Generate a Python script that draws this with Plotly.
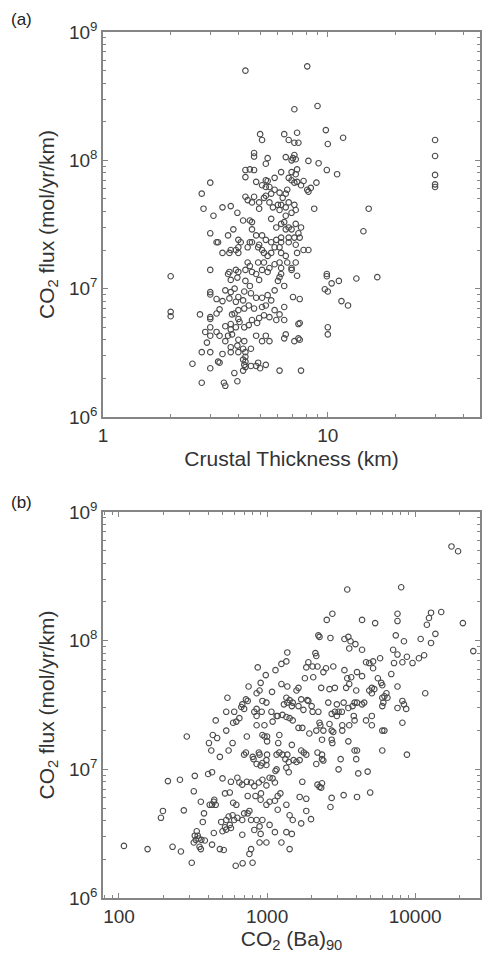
import plotly.graph_objects as go

# ---------------- Panel (a): crustal thickness vs CO2 flux ----------------
thickness_km = [
    4.3, 8.1, 7.1, 9.0, 5.0, 5.1, 6.4, 6.7, 7.3, 7.1,
    7.4, 9.8, 10.0, 11.7, 30, 30, 30, 30, 30, 4.7,
    4.7, 5.4, 5.3, 6.5, 6.9, 7.1, 7.2, 7.0, 8.2, 9.1,
    9.9, 11.0, 4.3, 4.5, 4.7, 4.3, 6.2, 6.9, 7.3, 7.2,
    4.8, 5.1, 5.3, 5.4, 5.8, 5.3, 5.5, 6.7, 6.9, 7.3,
    7.8, 7.1, 7.6, 8.9, 8.1, 8.4, 8.2, 3.0, 2.75, 2.8,
    3.1, 3.4, 3.7, 3.96, 4.3, 4.4, 4.7, 4.6, 4.95, 4.95,
    5.2, 5.3, 5.6, 5.8, 6.1, 6.3, 6.5, 6.6, 5.5, 5.7,
    6.0, 6.1, 6.2, 6.5, 6.7, 7.1, 7.2, 6.9, 6.5, 8.7,
    3.0, 3.2, 3.6, 3.8, 4.0, 4.1, 4.5, 4.6, 4.2, 4.6,
    4.8, 5.1, 5.3, 4.95, 4.6, 5.6, 5.9, 6.2, 6.4, 6.5,
    6.7, 6.9, 7.2, 7.6, 7.4, 7.1, 6.7, 6.2, 5.9, 5.6,
    6.2, 6.7, 7.2, 7.8, 8.2, 7.3, 7.5, 14.4, 15.2, 3.25,
    3.4, 3.65, 3.7, 3.9, 4.0, 4.0, 4.4, 4.5, 4.9, 5.1,
    5.2, 5.4, 5.6, 5.8, 6.1, 6.2, 6.5, 2.0, 3.0, 3.6,
    3.7, 3.65, 3.9, 4.0, 3.96, 4.4, 4.5, 4.3, 4.6, 4.3,
    4.5, 4.25, 4.8, 4.95, 5.1, 5.4, 5.5, 4.9, 5.2, 5.8,
    6.1, 6.2, 6.6, 6.9, 7.2, 6.1, 6.2, 6.9, 7.3, 6.0,
    6.4, 5.8, 5.4, 5.1, 5.6, 7.0, 7.5, 9.9, 9.9, 11.2,
    10.4, 13.4, 16.6, 9.7, 10.0, 11.5, 12.3, 3.0, 3.0, 3.2,
    3.4, 3.5, 3.3, 3.2, 2.7, 3.0, 3.0, 2.0, 2.0, 2.85,
    3.0, 2.5, 2.75, 3.0, 3.0, 3.25, 3.3, 3.4, 2.75, 3.45,
    3.5, 3.96, 3.84, 4.2, 6.1, 7.6, 4.25, 4.3, 4.3, 4.55,
    4.8, 4.9, 5.0, 5.3, 2.9, 3.0, 3.3, 3.2, 3.6, 3.75,
    3.5, 4.2, 4.3, 4.0, 3.7, 3.7, 3.96, 4.0, 4.25, 4.2,
    4.3, 4.55, 7.1, 7.4, 7.5, 6.4, 6.5, 5.5, 5.3, 5.1,
    4.8, 10.0, 10.0, 7.4, 7.5, 6.4, 6.1, 5.9, 5.5, 5.2,
    4.95, 4.6, 4.85, 4.45, 4.25, 4.05, 3.9, 3.7, 4.0, 3.85,
    3.5, 3.7, 3.75, 4.0, 4.25, 4.45, 4.7, 5.1, 5.3, 5.8,
    6.4, 4.2, 4.0, 3.9, 4.55, 4.8, 3.65, 3.7, 3.85,
]
flux_a = [
    5.0e8, 5.4e8, 2.5e8, 2.65e8, 1.6e8, 1.44e8, 1.6e8, 1.44e8, 1.64e8, 1.37e8,
    1.37e8, 1.72e8, 1.34e8, 1.5e8, 1.44e8, 1.08e8, 7.7e7, 6.5e7, 6.2e7, 1.14e8,
    1.07e8, 1.04e8, 9.4e7, 1.06e8, 1.0e8, 1.1e8, 1.02e8, 1.04e8, 9.9e7, 9.5e7,
    8.4e7, 7.8e7, 8.4e7, 8.5e7, 8.4e7, 7.4e7, 8.1e7, 8.1e7, 8.5e7, 7.8e7,
    6.8e7, 6.4e7, 7.0e7, 6.9e7, 7.3e7, 6.2e7, 6.2e7, 7.3e7, 7.0e7, 6.8e7,
    6.9e7, 6.7e7, 6.4e7, 6.7e7, 5.9e7, 6.1e7, 5.7e7, 6.7e7, 5.5e7, 4.2e7,
    3.7e7, 4.3e7, 4.4e7, 3.9e7, 5.2e7, 4.9e7, 5.2e7, 4.7e7, 4.7e7, 4.2e7,
    5.1e7, 5.3e7, 5.5e7, 5.9e7, 5.6e7, 5.1e7, 5.5e7, 5.9e7, 4.7e7, 4.3e7,
    4.5e7, 4.1e7, 4.5e7, 4.3e7, 4.7e7, 4.5e7, 4.1e7, 3.9e7, 3.7e7, 4.2e7,
    2.7e7, 2.3e7, 2.6e7, 2.9e7, 2.4e7, 2.3e7, 3.4e7, 3.3e7, 3.4e7, 2.9e7,
    2.6e7, 2.6e7, 2.4e7, 2.2e7, 2.3e7, 3.5e7, 3.0e7, 3.2e7, 3.3e7, 2.9e7,
    3.0e7, 2.9e7, 3.2e7, 3.0e7, 2.7e7, 2.5e7, 2.5e7, 2.5e7, 2.4e7, 2.3e7,
    2.3e7, 2.3e7, 2.2e7, 2.0e7, 2.0e7, 1.9e7, 2.5e7, 2.8e7, 4.2e7, 2.3e7,
    1.9e7, 1.9e7, 2.0e7, 2.0e7, 1.9e7, 2.1e7, 2.1e7, 2.3e7, 2.1e7, 2.0e7,
    1.9e7, 1.8e7, 1.9e7, 2.1e7, 2.1e7, 1.9e7, 1.8e7, 1.25e7, 1.4e7, 1.3e7,
    1.17e7, 1.35e7, 1.4e7, 1.35e7, 1.22e7, 1.6e7, 1.5e7, 1.4e7, 1.35e7, 1.15e7,
    1.05e7, 9.5e6, 1.3e7, 1.17e7, 1.4e7, 1.35e7, 1.45e7, 1.6e7, 1.6e7, 1.55e7,
    1.6e7, 1.45e7, 1.6e7, 1.45e7, 1.6e7, 1.23e7, 1.3e7, 1.4e7, 1.26e7, 1.15e7,
    1.05e7, 9.7e6, 8.9e6, 8.5e6, 8.1e6, 8.6e6, 8.3e6, 1.3e7, 1.25e7, 1.15e7,
    1.1e7, 1.2e7, 1.23e7, 9.9e6, 9.5e6, 8.0e6, 7.4e6, 9.4e6, 9.0e6, 8.3e6,
    8.0e6, 9.7e6, 6.9e6, 6.4e6, 6.3e6, 6.0e6, 5.8e6, 6.6e6, 6.1e6, 4.6e6,
    5.0e6, 2.6e6, 3.2e6, 3.2e6, 2.4e6, 2.7e6, 2.65e6, 3.1e6, 1.85e6, 1.85e6,
    1.75e6, 1.9e6, 2.2e6, 2.3e6, 2.3e6, 2.3e6, 2.55e6, 2.7e6, 2.45e6, 2.5e6,
    2.5e6, 2.65e6, 2.4e6, 2.55e6, 3.8e6, 4.3e6, 4.3e6, 4.6e6, 4.3e6, 4.4e6,
    3.9e6, 3.4e6, 3.2e6, 3.2e6, 3.2e6, 3.5e6, 3.6e6, 4.0e6, 3.9e6, 2.8e6,
    2.95e6, 3.4e6, 3.9e6, 4.1e6, 4.0e6, 4.1e6, 4.4e6, 3.9e6, 4.3e6, 3.9e6,
    4.3e6, 5.0e6, 4.4e6, 5.3e6, 5.4e6, 5.7e6, 6.3e6, 5.7e6, 6.0e6, 6.2e6,
    5.9e6, 5.7e6, 5.4e6, 5.2e6, 5.0e6, 5.5e6, 5.0e6, 5.3e6, 5.8e6, 6.4e6,
    5.1e6, 4.8e6, 6.3e6, 6.8e6, 7.0e6, 7.4e6, 7.0e6, 7.2e6, 7.4e6, 6.8e6,
    7.2e6, 8.1e6, 8.6e6, 7.9e6, 9.2e6, 8.5e6, 8.4e6, 9.4e6, 1.0e7,
]

# ---------------- Panel (b): CO2 (Ba)90 vs CO2 flux ----------------
co2_ba90 = [
    17600, 19500, 3480, 8050, 2530, 2760, 4380, 5370, 7600, 7600,
    12000, 12400, 12800, 15000, 21000, 24700, 2260, 2680, 3330, 3540,
    3660, 3950, 3590, 4380, 7400, 8400, 10900, 13700, 12800, 2120,
    2150, 2220, 7100, 7600, 8800, 8200, 9600, 10600, 11500, 7200,
    4660, 4900, 5200, 5800, 5200, 1900, 1840, 2030, 2190, 2400,
    2500, 2800, 3330, 4380, 4050, 3700, 3480, 6900, 1800, 2050,
    5600, 5900, 6000, 5100, 7600, 11700, 2320, 2640, 2870, 3420,
    3590, 4000, 4900, 5100, 5300, 6400, 6500, 6200, 6000, 1700,
    1900, 1760, 2000, 2030, 2220, 2590, 2960, 3290, 3540, 3780,
    3900, 4050, 4380, 4530, 2870, 3040, 3200, 2960, 2730, 3850,
    3900, 4660, 5100, 5100, 6000, 6100, 7600, 8200, 8700, 8400,
    8200, 6000, 6200, 6000, 8800, 2260, 2290, 2640, 2730, 2800,
    3220, 3220, 3590, 1730, 1930, 2150, 2400, 2350, 2730, 2760,
    3540, 3900, 4050, 1700, 1770, 1840, 2190, 2350, 2350, 2150,
    3140, 4000, 3040, 4130, 4780, 1730, 2190, 2350, 2260, 1660,
    1840, 2730, 3290, 4050, 4970, 1840, 2680, 1370, 1350, 1250,
    1140, 980, 865, 905, 850, 750, 890, 1080, 1250, 1370,
    1580, 1630, 540, 720, 740, 680, 670, 700, 930, 990,
    850, 820, 1350, 1370, 1420, 1490, 1300, 1470, 1630, 1870,
    530, 600, 650, 620, 590, 1070, 1160, 1270, 1180, 1350,
    1420, 1490, 920, 850, 850, 960, 1090, 450, 530, 287,
    430, 460, 730, 930, 1000, 1000, 960, 1210, 1190, 1470,
    1630, 405, 420, 585, 550, 720, 700, 880, 890, 800,
    1000, 1160, 1210, 1270, 1370, 480, 810, 850, 905, 930,
    990, 990, 1330, 1400, 1510, 1660, 1580, 2400, 214, 258,
    325, 400, 425, 500, 570, 630, 650, 680, 730, 780,
    820, 880, 930, 990, 1040, 1090, 1130, 1140, 1160, 1350,
    1400, 320, 357, 425, 440, 450, 560, 520, 590, 620,
    740, 835, 910, 905, 990, 1040, 1130, 1180, 1230, 2320,
    198, 192, 274, 375, 410, 437, 490, 530, 550, 585,
    560, 520, 530, 500, 570, 600, 630, 700, 680, 740,
    760, 780, 850, 930, 890, 1040, 1180, 1350, 1420, 1490,
    1700, 1980, 335, 325, 340, 330, 345, 360, 320, 350,
    357, 380, 425, 437, 480, 510, 680, 780, 820, 905,
    890, 990, 1130, 1350, 1470, 1420, 1250, 760, 156, 230,
    262, 108, 310, 614, 684, 798, 368,
]
flux_b = [
    5.4e8, 4.95e8, 2.5e8, 2.6e8, 1.45e8, 1.62e8, 1.45e8, 1.37e8, 1.62e8, 1.42e8,
    1.33e8, 1.5e8, 1.65e8, 1.67e8, 1.37e8, 8.3e7, 1.07e8, 1.05e8, 1.03e8, 1.07e8,
    9.9e7, 9.4e7, 8.7e7, 8.5e7, 1.1e8, 9.9e7, 1.03e8, 1.13e8, 9.6e7, 8.0e7,
    7.6e7, 1.1e8, 8.5e7, 7.8e7, 7.5e7, 6.8e7, 6.7e7, 7.3e7, 7.7e7, 6.7e7,
    6.8e7, 6.7e7, 6.9e7, 7.3e7, 6.1e7, 6.8e7, 6.2e7, 6.3e7, 6.3e7, 5.7e7,
    6.1e7, 6.3e7, 5.9e7, 5.3e7, 5.7e7, 5.2e7, 5.1e7, 5.5e7, 5.1e7, 5.2e7,
    5.1e7, 4.7e7, 4.5e7, 4.3e7, 4.4e7, 3.9e7, 4.3e7, 4.2e7, 4.3e7, 4.3e7,
    4.6e7, 4.1e7, 4.1e7, 3.9e7, 4.2e7, 3.9e7, 3.6e7, 3.7e7, 3.6e7, 3.5e7,
    3.4e7, 2.9e7, 3.1e7, 2.8e7, 2.8e7, 3.3e7, 3.2e7, 3.3e7, 3.0e7, 3.1e7,
    3.3e7, 3.3e7, 3.2e7, 3.3e7, 2.8e7, 2.8e7, 2.8e7, 2.6e7, 2.7e7, 2.6e7,
    2.4e7, 2.4e7, 2.6e7, 2.2e7, 3.1e7, 3.3e7, 3.0e7, 3.4e7, 2.95e7, 3.2e7,
    2.3e7, 2.0e7, 2.0e7, 1.4e7, 1.3e7, 2.3e7, 2.2e7, 2.25e7, 2.0e7, 1.95e7,
    2.2e7, 2.0e7, 2.2e7, 2.1e7, 1.9e7, 2.0e7, 2.0e7, 1.7e7, 1.7e7, 1.6e7,
    1.65e7, 1.4e7, 1.4e7, 1.4e7, 1.35e7, 1.3e7, 1.35e7, 1.3e7, 1.2e7, 1.1e7,
    1.2e7, 1.2e7, 1.0e7, 9.3e6, 9.6e6, 8.0e6, 7.6e6, 7.8e6, 7.3e6, 6.1e6,
    5.9e6, 6.0e6, 6.3e6, 6.1e6, 6.6e6, 4.75e6, 5.1e6, 8.1e7, 6.9e7, 6.6e7,
    5.9e7, 5.4e7, 6.2e7, 4.7e7, 3.9e7, 4.4e7, 4.1e7, 4.0e7, 4.6e7, 4.4e7,
    4.1e7, 4.3e7, 3.6e7, 3.5e7, 3.4e7, 3.2e7, 3.05e7, 2.95e7, 3.4e7, 3.3e7,
    2.95e7, 2.8e7, 3.6e7, 3.3e7, 3.45e7, 3.3e7, 3.2e7, 3.1e7, 3.1e7, 3.45e7,
    2.8e7, 2.8e7, 2.5e7, 2.35e7, 2.3e7, 2.8e7, 2.6e7, 2.65e7, 2.6e7, 2.55e7,
    2.5e7, 2.4e7, 2.8e7, 2.6e7, 2.2e7, 2.2e7, 2.35e7, 2.4e7, 2.0e7, 1.8e7,
    1.85e7, 1.75e7, 1.8e7, 1.85e7, 1.8e7, 1.65e7, 1.8e7, 1.85e7, 1.6e7, 1.55e7,
    2.1e7, 1.6e7, 1.4e7, 1.6e7, 1.4e7, 1.35e7, 1.3e7, 1.35e7, 1.3e7, 1.25e7,
    1.3e7, 1.3e7, 1.35e7, 1.3e7, 1.3e7, 1.25e7, 1.2e7, 1.1e7, 1.07e7, 1.12e7,
    1.08e7, 1.18e7, 1.2e7, 1.14e7, 1.18e7, 1.18e7, 1.14e7, 1.17e7, 8.1e6, 8.3e6,
    8.9e6, 9.2e6, 9.5e6, 8.5e6, 8.0e6, 8.6e6, 7.9e6, 7.6e6, 8.0e6, 7.9e6,
    7.4e6, 7.9e6, 8.3e6, 7.5e6, 8.6e6, 8.5e6, 7.9e6, 9.7e6, 1.0e7, 1.03e7,
    9.5e6, 6.75e6, 5.6e6, 5.3e6, 5.8e6, 5.3e6, 6.6e6, 6.5e6, 5.5e6, 5.3e6,
    6.2e6, 6.2e6, 6.5e6, 5.8e6, 5.3e6, 5.6e6, 5.7e6, 6.2e6, 6.5e6, 7.2e6,
    4.75e6, 4.2e6, 4.8e6, 4.55e6, 5.3e6, 5.6e6, 3.9e6, 4.04e6, 4.3e6, 4.4e6,
    3.7e6, 3.55e6, 3.4e6, 3.3e6, 3.5e6, 4.04e6, 4.2e6, 4.55e6, 4.04e6, 4.55e6,
    4.75e6, 4.04e6, 4.04e6, 4.04e6, 3.6e6, 3.7e6, 4.85e6, 5.3e6, 4.4e6, 4.04e6,
    3.8e6, 4.1e6, 3.3e6, 3.05e6, 3.05e6, 2.83e6, 2.9e6, 2.83e6, 2.7e6, 2.5e6,
    2.4e6, 2.8e6, 2.6e6, 3.2e6, 2.4e6, 2.36e6, 3.1e6, 2.4e6, 3.38e6, 3.15e6,
    2.7e6, 2.7e6, 3.25e6, 3.25e6, 3.15e6, 2.4e6, 2.7e6, 2.2e6, 2.4e6, 2.5e6,
    2.3e6, 2.54e6, 1.88e6, 1.78e6, 1.86e6, 1.88e6, 3.9e6,
]

y_ticks = [1e6, 1e7, 1e8, 1e9]
y_tick_text = ["10<sup>6</sup>", "10<sup>7</sup>", "10<sup>8</sup>", "10<sup>9</sup>"]
xa_ticks = [1, 10]
xa_tick_text = ["1", "10"]
xb_ticks = [100, 1000, 10000]
xb_tick_text = ["100", "1000", "10000"]

# minor tick positions (axis decoration only)
def minors(lo_exp, hi_exp):
    out = []
    for e in range(lo_exp, hi_exp + 1):
        for m in range(2, 10):
            out.append(m * 10 ** e)
    return out

FONT = "Liberation Sans, Arial, Helvetica, sans-serif"
TXT = "#333333"
AX = "#858585"

W, H = 482, 961
ML, MR, MT, MB = 103, 0, 32, 63
plot_h = H - MT - MB
a_top, a_bot = 32, 417
b_top, b_bot = 512, 898

def ydom(top, bot):
    return [(H - MB - bot) / plot_h, (H - MB - top) / plot_h]

marker = dict(symbol="circle-open", size=5.5, color="#4a4a4a", line=dict(width=1.1, color="#4a4a4a"))

fig = go.Figure()
fig.add_trace(go.Scatter(x=thickness_km, y=flux_a, mode="markers", marker=marker,
                         xaxis="x", yaxis="y", showlegend=False))
fig.add_trace(go.Scatter(x=co2_ba90, y=flux_b, mode="markers", marker=marker,
                         xaxis="x2", yaxis="y2", showlegend=False))

common_axis = dict(
    type="log", showgrid=False, zeroline=False, showline=True, linecolor=AX, linewidth=1.5,
    mirror="ticks", ticks="inside", ticklen=5, tickwidth=1, tickcolor=AX,
    tickfont=dict(family=FONT, size=19, color=TXT),
)
TITLE_FONT = dict(family=FONT, size=21, color=TXT)

fig.update_layout(
    width=W, height=H,
    margin=dict(l=ML, r=MR, t=MT, b=MB),
    paper_bgcolor="white", plot_bgcolor="white",
    font=dict(family=FONT, color=TXT),
    xaxis=dict(common_axis, domain=[0, 1], anchor="y", range=[0, 1.677],
               tickmode="array", tickvals=xa_ticks, ticktext=xa_tick_text,
               minor=dict(tickmode="array", tickvals=minors(0, 1), ticks="inside", ticklen=3, tickcolor=AX),
               title=dict(text="Crustal Thickness (km)", font=TITLE_FONT, standoff=7)),
    yaxis=dict(common_axis, domain=ydom(a_top, a_bot), anchor="x", range=[6, 9],
               tickmode="array", tickvals=y_ticks, ticktext=y_tick_text,
               minor=dict(tickmode="array", tickvals=minors(6, 8), ticks="inside", ticklen=3, tickcolor=AX),
               title=dict(text="CO<sub>2</sub> flux (mol/yr/km)", font=TITLE_FONT, standoff=9)),
    xaxis2=dict(common_axis, domain=[0, 1], anchor="y2", range=[1.892, 4.438],
                tickmode="array", tickvals=xb_ticks, ticktext=xb_tick_text,
                minor=dict(tickmode="array", tickvals=minors(1, 4), ticks="inside", ticklen=3, tickcolor=AX),
                title=dict(text="CO<sub>2</sub> (Ba)<sub>90</sub>", font=TITLE_FONT, standoff=5)),
    yaxis2=dict(common_axis, domain=ydom(b_top, b_bot), anchor="x2", range=[6, 9],
                tickmode="array", tickvals=y_ticks, ticktext=y_tick_text,
                minor=dict(tickmode="array", tickvals=minors(6, 8), ticks="inside", ticklen=3, tickcolor=AX),
                title=dict(text="CO<sub>2</sub> flux (mol/yr/km)", font=TITLE_FONT, standoff=9)),
)

def px_to_paper_x(px):
    return (px - ML) / (W - ML - MR)

def px_to_paper_y(py):
    return (H - MB - py) / plot_h

for label, py in (("(a)", 20), ("(b)", 503)):
    fig.add_annotation(text=label, xref="paper", yref="paper",
                       x=px_to_paper_x(8), y=px_to_paper_y(py),
                       xanchor="left", yanchor="middle", showarrow=False,
                       font=dict(family=FONT, size=17, color="#222222"))

fig.write_html("out.html")
